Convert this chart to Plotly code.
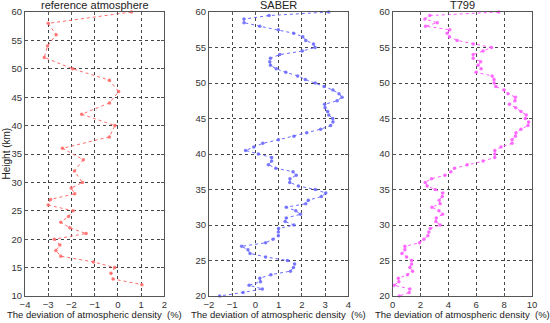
import plotly.graph_objects as go

# ---- data ----
ref_height = [60, 58, 56, 54, 52, 50, 48, 46, 44, 42, 40, 38, 36, 34, 32, 30, 29, 28, 27, 26,
              25, 24, 23, 22, 21, 20, 19, 18, 17, 16, 15, 14, 13, 12]
ref_dev = [0.58, -3.0, -2.66, -3.03, -3.17, -1.95, -0.37, 0.03, -0.36, -1.56, -0.13, -0.37, -2.39,
           -1.49, -1.87, -1.53, -2.01, -1.86, -2.9, -3.0, -1.93, -2.13, -2.46, -2.07, -1.37, -2.74,
           -2.5, -2.67, -2.46, -1.05, -0.14, -0.3, -0.21, 1.03]

saber_height = [60 - 0.5 * i for i in range(81)]
saber_dev = [3.16, 0.59, -0.49, -0.49, 0.19, 0.99, 1.65, 2.04, 2.17, 2.5,
             2.57, 2.02, 1.05, 0.65, 0.62, 0.65, 0.9, 1.31, 1.82, 2.15,
             2.58, 2.96, 3.34, 3.6, 3.73, 3.52, 2.98, 3.0, 3.11, 3.16,
             3.33, 3.34, 3.24, 2.81, 2.21, 1.66, 0.99, 0.32, -0.07, -0.42,
             0.13, 0.7, 0.7, 0.56, 0.88, 1.62, 1.76, 1.49, 1.48, 1.85,
             2.58, 3.03, 2.84, 2.28, 2.17, 1.33, 1.74, 1.94, 1.33, 1.28,
             1.66, 1.0, 0.99, 0.99, 0.76, 0.44, -0.59, -0.32, -0.23, 0.44,
             1.38, 1.69, 1.64, 1.51, 0.67, 0.19, 0.22, -0.27, 0.3, -0.53,
             -1.54]

t799_height = [60 - 0.5 * i for i in range(81)]
t799_dev = [7.61, 2.67, 2.32, 3.2, 2.36, 4.1, 3.91, 4.08, 4.63, 5.78,
            7.09, 6.49, 5.78, 5.78, 6.32, 6.13, 6.35, 5.99, 7.14, 7.28,
            7.28, 7.4, 8.0, 8.28, 8.81, 8.78, 8.38, 8.83, 9.21, 9.59,
            9.52, 9.76, 9.71, 9.21, 8.85, 8.81, 8.57, 8.57, 7.78, 7.33,
            7.33, 7.33, 6.49, 5.35, 4.44, 4.18, 3.75, 2.79, 2.34, 2.48,
            3.05, 3.6, 3.56, 3.34, 3.41, 2.82, 3.32, 3.58, 3.13, 3.1,
            3.41, 2.7, 2.6, 2.53, 2.24, 1.93, 0.88, 0.88, 0.67, 1.0,
            1.36, 1.36, 1.24, 1.43, 1.07, 0.41, 0.45, 0.1, 1.24, 1.19,
            0.48]

panel_titles = ["reference atmosphere", "SABER", "T799"]
x_ranges = [[-4, 2], [-2, 4], [0, 10]]
x_dticks = [1, 1, 2]
y_ranges = [[10, 60], [20, 60], [20, 60]]
x_title = "The deviation of atmospheric density\u00a0\u00a0(%)"
y_title = "Height (km)"

series = [(ref_dev, ref_height, "#ff6a6a"),
          (saber_dev, saber_height, "#6a6aff"),
          (t799_dev, t799_height, "#ff5cff")]

# ---- layout geometry ----
W, H = 550, 323
ml, mr, mt, mb = 24.5, 17.7, 12.3, 27.3
pw = W - ml - mr
lefts = [24.5, 208.7, 392.7]
width = 139.6
domains = [[(l - ml) / pw, min(1.0, (l + width - ml) / pw)] for l in lefts]

fig = go.Figure()
font_fam = "Liberation Sans, Arial, sans-serif"

for i, (xv, yv, col) in enumerate(series):
    xa = "x" if i == 0 else f"x{i+1}"
    ya = "y" if i == 0 else f"y{i+1}"
    fig.add_trace(go.Scatter(
        x=xv, y=yv, mode="lines+markers", xaxis=xa, yaxis=ya,
        line=dict(color=col, width=1, dash="dot"),
        marker=dict(color=col, size=3.5, symbol="circle", opacity=0.9),
        showlegend=False, hoverinfo="skip", cliponaxis=False))

axis_common = dict(
    showline=True, mirror="ticks", linecolor="#555555", linewidth=1,
    showgrid=True, gridcolor="#444444", gridwidth=1, griddash="dot",
    ticks="inside", ticklen=3, tickcolor="#555555",
    tickfont=dict(family=font_fam, size=9.5, color="#333333"),
    zeroline=False, fixedrange=True, automargin=False,
)

layout = dict(
    width=W, height=H,
    margin=dict(l=ml, r=mr, t=mt, b=mb, pad=0, autoexpand=False),
    paper_bgcolor="white", plot_bgcolor="white",
    font=dict(family=font_fam, color="#222222"),
)
for i in range(3):
    xk = "xaxis" if i == 0 else f"xaxis{i+1}"
    yk = "yaxis" if i == 0 else f"yaxis{i+1}"
    ya = "y" if i == 0 else f"y{i+1}"
    xa = "x" if i == 0 else f"x{i+1}"
    layout[xk] = dict(axis_common, domain=domains[i], range=x_ranges[i],
                      dtick=x_dticks[i], tick0=0, anchor=ya)
    layout[yk] = dict(axis_common, domain=[0, 1], range=y_ranges[i],
                      dtick=5, tick0=0, anchor=xa)

fig.update_layout(**layout)

annotations = []
for i in range(3):
    cx = (domains[i][0] + domains[i][1]) / 2
    annotations.append(dict(text=panel_titles[i], x=cx, y=1, xref="paper", yref="paper",
                            xanchor="center", yanchor="bottom", yshift=-1, showarrow=False,
                            font=dict(family=font_fam, size=11, color="#222222")))
    annotations.append(dict(text=x_title, x=cx, y=0, xref="paper", yref="paper",
                            xanchor="center", yanchor="top", yshift=-11, showarrow=False,
                            font=dict(family=font_fam, size=9.5, color="#222222")))
annotations.append(dict(text=y_title, x=0, y=0.5, xref="paper", yref="paper",
                        xanchor="right", yanchor="middle", xshift=-12, textangle=-90,
                        showarrow=False, font=dict(family=font_fam, size=10, color="#222222")))
fig.update_layout(annotations=annotations)

fig.write_html("out.html",
               config={"displayModeBar": False, "staticPlot": True},
               post_script="document.body.style.margin='0';document.body.style.overflow='hidden';")
